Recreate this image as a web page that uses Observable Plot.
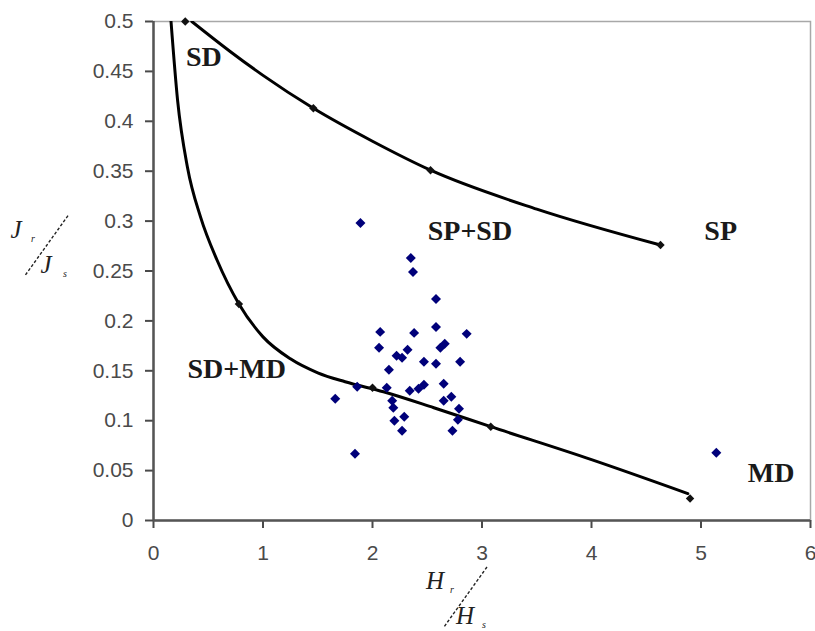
<!DOCTYPE html>
<html>
<head>
<meta charset="utf-8">
<script src="https://cdn.jsdelivr.net/npm/d3@7"></script>
<script src="https://cdn.jsdelivr.net/npm/@observablehq/plot@0.6"></script>
<style>
  html, body { margin: 0; padding: 0; background: #fff; }
</style>
</head>
<body>
<div id="chart"></div>
<script>
// ---- Data ----
const xTicks = [0, 1, 2, 3, 4, 5, 6];
const yTicks = [0, 0.05, 0.1, 0.15, 0.2, 0.25, 0.3, 0.35, 0.4, 0.45, 0.5];

// observed points (blue diamonds)
const obsX = [1.89, 2.35, 2.37, 2.58, 2.07, 2.38, 2.58, 2.86, 2.06, 2.22, 2.27, 2.32, 2.62, 2.66,
              2.47, 2.58, 2.80, 2.15, 1.86, 2.13, 2.34, 2.42, 2.47, 2.65, 1.66, 2.18, 2.65, 2.72,
              2.19, 2.79, 2.29, 2.20, 2.78, 2.27, 2.73, 1.84, 5.14];
const obsY = [0.298, 0.263, 0.249, 0.222, 0.189, 0.188, 0.194, 0.187, 0.173, 0.165, 0.163, 0.171, 0.173, 0.177,
              0.159, 0.157, 0.159, 0.151, 0.134, 0.133, 0.130, 0.132, 0.136, 0.137, 0.122, 0.120, 0.120, 0.124,
              0.113, 0.112, 0.104, 0.100, 0.101, 0.090, 0.090, 0.067, 0.068];

// upper boundary curve (SD / SP)
const upperX = [0.35, 0.70, 1.00, 1.46, 2.00, 2.53, 3.50, 4.63];
const upperY = [0.500, 0.470, 0.446, 0.413, 0.380, 0.351, 0.312, 0.276];
const upperMarkX = [0.29, 1.46, 2.53, 4.63];
const upperMarkY = [0.500, 0.413, 0.351, 0.276];

// lower boundary curve (SD+MD / MD)
const lowerX = [0.16, 0.22, 0.31, 0.43, 0.58, 0.78, 1.00, 1.25, 1.50, 1.75, 2.10, 2.56, 3.08, 4.00, 4.88];
const lowerY = [0.500, 0.421, 0.354, 0.304, 0.261, 0.217, 0.184, 0.162, 0.148, 0.139, 0.129, 0.113, 0.094, 0.061, 0.027];
const lowerMarkX = [0.78, 2.00, 3.08, 4.90];
const lowerMarkY = [0.217, 0.133, 0.094, 0.022];

// region labels
const regionText = ["SD", "SP+SD", "SP", "SD+MD", "MD"];
const regionX = [0.46, 2.89, 5.18, 0.76, 5.64];
const regionY = [0.464, 0.290, 0.290, 0.152, 0.048];

// ---- tables built from the arrays ----
const obs = obsX.map((x, i) => ({x, y: obsY[i]}));
const upper = upperX.map((x, i) => ({x, y: upperY[i]}));
const lower = lowerX.map((x, i) => ({x, y: lowerY[i]}));
const marks = upperMarkX.map((x, i) => ({x, y: upperMarkY[i]}))
  .concat(lowerMarkX.map((x, i) => ({x, y: lowerMarkY[i]})));
const regions = regionText.map((t, i) => ({t, x: regionX[i], y: regionY[i]}));

const sans = "'Liberation Sans', Arial, sans-serif";
const serif = "'Liberation Serif', 'Times New Roman', serif";
const axisColor = "#4a4a4a";

const plot = Plot.plot({
  width: 815,
  height: 631,
  marginLeft: 153,
  marginRight: 5,
  marginTop: 21,
  marginBottom: 111,
  x: {domain: [0, 6]},
  y: {domain: [0, 0.5]},
  style: {background: "#fff", fontFamily: sans, overflow: "visible"},
  marks: [
    Plot.frame({stroke: "#a8a8a8", strokeWidth: 1.5}),
    // tick lines
    Plot.axisX({ticks: xTicks, tickSize: 8, color: axisColor, strokeWidth: 2, label: null, tickFormat: () => ""}),
    Plot.axisY({ticks: yTicks, tickSize: 8, color: axisColor, strokeWidth: 2, label: null, tickFormat: () => ""}),
    // tick labels
    Plot.text(xTicks, {x: d => d, text: d => String(d), frameAnchor: "bottom", lineAnchor: "top",
                       dy: 25, fontSize: 21, fill: axisColor}),
    Plot.text(yTicks, {y: d => d, text: d => String(d), frameAnchor: "left", textAnchor: "end",
                       dx: -20, fontSize: 21, fill: axisColor}),
    Plot.ruleX([0], {stroke: "#555", strokeWidth: 2.5}),
    Plot.ruleY([0], {stroke: "#555", strokeWidth: 2.5}),
    Plot.line(upper, {x: "x", y: "y", curve: "monotone-x", stroke: "#000", strokeWidth: 3, clip: true}),
    Plot.line(lower, {x: "x", y: "y", curve: "monotone-x", stroke: "#000", strokeWidth: 3, clip: true}),
    Plot.dot(marks, {x: "x", y: "y", symbol: "diamond2", r: 3.8, fill: "#111", stroke: "none"}),
    Plot.dot(obs, {x: "x", y: "y", symbol: "diamond2", r: 4.5, fill: "#00007a", stroke: "none"}),
    Plot.text(regions, {x: "x", y: "y", text: "t", fontFamily: serif, fontWeight: "bold",
                        fontSize: 28, fill: "#1a1a1a", textAnchor: "middle", lineAnchor: "middle"})
  ]
});

document.getElementById("chart").appendChild(plot);

// ---- axis titles drawn as fractions (J_r / J_s and H_r / H_s) ----
const svg = d3.select(plot);
const sx = plot.scale("x"), sy = plot.scale("y");
const x0 = sx.apply(0), y0 = sy.apply(0);

function fraction(num, den, sub1, sub2, ox, oy) {
  // ox, oy: anchor = top end of the dashed slash
  const grp = svg.append("g").attr("transform", `translate(${ox},${oy})`)
    .attr("font-family", serif).attr("font-style", "italic").attr("fill", "#222");
  grp.append("line").attr("x1", 0).attr("y1", 0).attr("x2", -43).attr("y2", 60)
    .attr("stroke", "#222").attr("stroke-width", 1.4).attr("stroke-dasharray", "3,2");
  grp.append("text").attr("x", -52).attr("y", 22).attr("font-size", 25).text(num);
  grp.append("text").attr("x", -35).attr("y", 26).attr("font-size", 10).text(sub1);
  grp.append("text").attr("x", -22).attr("y", 57).attr("font-size", 25).text(den);
  grp.append("text").attr("x", -3).attr("y", 61).attr("font-size", 10).text(sub2);
}
// y-axis title, left of the axis
fraction("J", "J", "r", "s", x0 - 85, sy.apply(0.305));
// x-axis title, below x = 3
fraction("H", "H", "r", "s", sx.apply(3.05), y0 + 47);
</script>
</body>
</html>
